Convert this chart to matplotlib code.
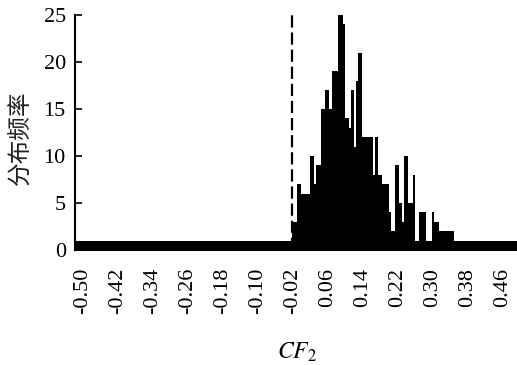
import matplotlib
matplotlib.use('Agg')
import matplotlib.pyplot as plt
import numpy as np

plt.rcParams['font.family'] = ['Liberation Serif', 'Noto Sans CJK SC']
plt.rcParams['mathtext.fontset'] = 'stix'

# histogram of CF2, bin width 0.005
bin_width = 0.005
left_start = -0.52
left_counts = [1, 1, 1, 1, 1, 1, 1, 1, 1, 1, 1, 1, 1, 1, 1, 1, 1, 1, 1, 1,
               1, 1, 1, 1, 1, 1, 1, 1, 1, 1, 1, 1, 1, 1, 1, 1, 1, 1, 1, 1,
               1, 1, 1, 1, 1, 1, 1, 1, 1, 1, 1, 1, 1, 1, 1, 1, 1, 1, 1, 1,
               1, 1, 1, 1, 1, 1, 1, 1, 1, 1, 1, 1, 1, 1, 1, 1, 1, 1, 1, 1,
               1, 1, 1, 1, 1, 1, 1, 1, 1, 1, 1, 1, 1, 1, 1, 1, 1, 1, 1, 1]
mid_counts = [3, 3, 7, 7, 6, 6, 6, 6, 10, 10,
              7, 9, 9, 15, 15, 17, 17, 15, 19, 19,
              19, 25, 25, 24, 14, 14, 13, 17, 11, 18,
              21, 21, 12, 12, 12, 12, 12, 8, 12, 8,
              8, 7, 7, 7, 4, 2, 2, 9, 9, 5,
              3, 10, 10, 5, 5, 8, 1, 1, 4, 4,
              4, 1, 1, 1, 4, 3, 3, 2, 2, 2,
              2, 2, 2, 2]
right_counts = [1, 1, 1, 1, 1, 1, 1, 1, 1, 1, 1, 1, 1, 1, 1,
                1, 1, 1, 1, 1, 1, 1, 1, 1, 1, 1, 1, 1, 1]
threshold = -0.02
xtick_vals = [-0.50, -0.42, -0.34, -0.26, -0.18, -0.10, -0.02,
              0.06, 0.14, 0.22, 0.30, 0.38, 0.46]
xtick_labels = ['-0.50', '-0.42', '-0.34', '-0.26', '-0.18', '-0.10', '-0.02',
                '0.06', '0.14', '0.22', '0.30', '0.38', '0.46']
ytick_vals = [0, 5, 10, 15, 20, 25]

counts = left_counts + mid_counts + right_counts
edges = left_start + bin_width * np.arange(len(counts))

fig = plt.figure(figsize=(5.17, 3.65), dpi=100)
ax = fig.add_axes([0.146, 0.315, 0.854, 0.644])

ax.bar(edges, counts, width=bin_width, align='edge', color='black', linewidth=0)
ax.axvline(threshold, color='black', lw=1.6, ls=(0, (5.5, 2.2)))

ax.set_xlim(-0.5155, 0.4936)
ax.set_ylim(0, 25)
ax.set_xticks(xtick_vals)
ax.set_xticklabels(xtick_labels, rotation=90)
ax.set_yticks(ytick_vals)
ax.tick_params(axis='both', direction='in', labelsize=16, width=1.2)
ax.tick_params(axis='x', length=4, pad=13)
ax.tick_params(axis='y', length=5, pad=7)

for s in ['top', 'right']:
    ax.spines[s].set_visible(False)
ax.spines['left'].set_linewidth(1.5)
ax.spines['bottom'].set_linewidth(1.5)

ax.set_xlabel('$CF_2$', fontsize=17)
ax.xaxis.set_label_coords(0.502, -0.385)
ax.set_ylabel('分布频率', fontsize=17, color='#222222')
ax.yaxis.set_label_coords(-0.097, 0.477)

plt.savefig('out.png', dpi=100)
